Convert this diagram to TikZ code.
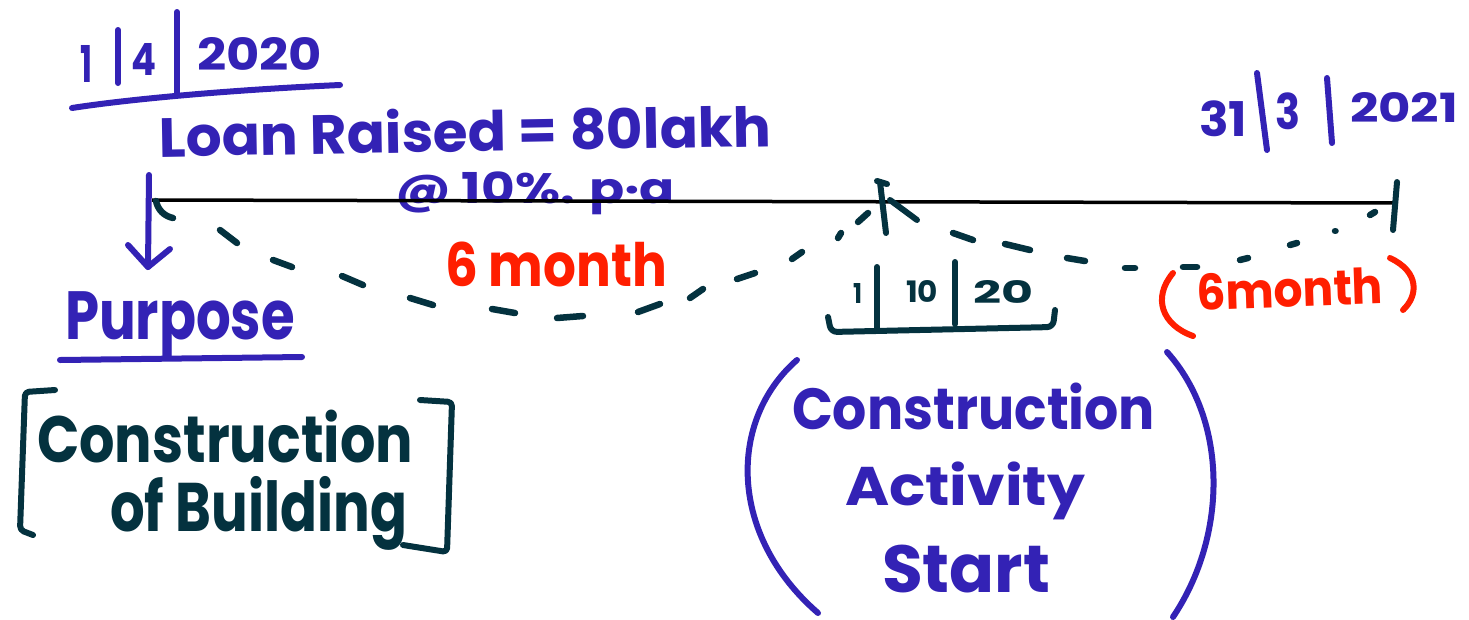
\documentclass[tikz,border=0pt]{standalone}
\usepackage{fontspec}
\usepackage{graphicx}
\setmainfont{Poppins}

\definecolor{ink}{HTML}{3322B5}
\definecolor{slate}{HTML}{04323F}
\definecolor{pen}{HTML}{FF1E00}

% text squeezed into a given ink box: width, total height, content
\newcommand\fitbox[3]{\resizebox*{#1pt}{#2pt}{\bfseries #3}}

\tikzset{
  txt/.style={inner sep=0pt, outer sep=0pt, anchor=north west},
  ctxt/.style={inner sep=0pt, outer sep=0pt, anchor=center},
  stroke/.style={line width=6pt, line cap=round, line join=round},
  dashmark/.style={line width=6.5pt, line cap=round, color=slate},
}

\begin{document}
\begin{tikzpicture}[x=1pt,y=-1pt]
\useasboundingbox (0,0) rectangle (1469,619);
\fill[white] (0,0) rectangle (1469,619);

% ---------- start date 1|4|2020 ----------
\node[txt, text=ink] (d1) at (80,45) {\fitbox{12}{37}{1}};
\node[txt, text=ink] (d4) at (131,43) {\fitbox{25}{32}{4}};
\node[txt, text=ink] (d2020) at (197,37) {\fitbox{125}{33}{2020}};
\draw[stroke, ink] (118,30) -- (118,83);
\draw[stroke, ink] (177,12) -- (177,95);
\draw[stroke, ink] (72,108) .. controls (130,99) and (230,90) .. (340,85);

% ---------- loan text ----------
\node[ctxt, text=ink, rotate=1] (loan) at (465,130) {\fitbox{612}{45}{Loan Raised = 80lakh}};
\node[txt, text=ink] (rate) at (395,172) {\fitbox{280}{43}{@ 10\%. p·a}};

% ---------- end date 31|3|2021 ----------
\node[txt, text=ink] (e31) at (1199,101) {\fitbox{48}{36}{31}};
\node[txt, text=ink] (e3) at (1275,93) {\fitbox{25}{37}{3}};
\node[txt, text=ink] (e2021) at (1350,92) {\fitbox{108}{30}{2021}};
\draw[stroke, ink] (1257,73) -- (1267,150);
\draw[stroke, ink] (1327,78) -- (1332,143);

% ---------- time axis ----------
\draw[line width=3.5pt, black] (152,200) -- (1397,203);
% start tick with downward arrow
\draw[stroke, ink] (149,175) -- (148,267);
\draw[stroke, ink] (128,245) -- (148,267) -- (170,249);
% middle tick
\draw[stroke, slate] (880,182) -- (886,233);
\draw[stroke, slate] (877,181) -- (887,184);
\draw[stroke, slate] (890,200) -- (917,220);
% end tick
\draw[stroke, slate] (1397,182) -- (1393,230);

% ---------- first half-year span (dashed arc) ----------
\draw[dashmark] (156,201) .. controls (158,210) and (164,216) .. (173,218);
\draw[dashmark] (220,230) -- (237,243);
\draw[dashmark] (273,260) -- (292,267);
\draw[dashmark] (342,276) -- (363,285);
\draw[dashmark] (410,298) -- (433,305);
\draw[dashmark] (492,309) -- (515,313);
\draw[dashmark] (557,318) -- (583,316);
\draw[dashmark] (638,312) -- (660,304);
\draw[dashmark] (690,298) -- (703,289);
\draw[dashmark] (737,279) -- (755,273);
\draw[dashmark] (792,259) -- (802,252);
\draw[dashmark] (838,238) -- (841,233);
\draw[dashmark] (858,222) -- (868,213);

% ---------- second half-year span (dashed arc) ----------
\draw[dashmark] (953,233) -- (973,240);
\draw[dashmark] (1005,244) -- (1030,250);
\draw[dashmark] (1067,258) -- (1085,261);
\draw[dashmark] (1125,268) -- (1135,268);
\draw[dashmark] (1183,267) -- (1197,267);
\draw[dashmark] (1240,260) -- (1248,258);
\draw[dashmark] (1290,245) -- (1297,243);
\draw[dashmark] (1335,231) -- (1335.5,231);
\draw[dashmark] (1370,215) -- (1375,212);

% ---------- span labels ----------
\node[txt, text=pen] (sixa) at (445,242) {\fitbox{222}{45}{6 month}};
\node[ctxt, text=pen, rotate=2] (sixb) at (1290,289) {\fitbox{186}{37}{6month}};
\draw[stroke, pen] (1173,273) .. controls (1152,298) and (1162,325) .. (1193,336);
\draw[stroke, pen] (1390,258) .. controls (1420,272) and (1418,296) .. (1403,310);

% ---------- mid date 1|10|20 ----------
\node[txt, text=slate] (dd1) at (853,283) {\fitbox{9}{20}{1}};
\node[txt, text=slate] (dd10) at (906,280) {\fitbox{32}{22}{10}};
\node[txt, text=slate] (dd20) at (973,280) {\fitbox{60}{23}{20}};
\draw[stroke, slate] (877,267) -- (877,329);
\draw[stroke, slate] (955,262) -- (955,324);
\draw[stroke, slate, rounded corners=6pt] (828,317) -- (831,332) -- (1053,327) -- (1055,310);

% ---------- purpose ----------
\node[txt, text=ink] (purpose) at (65,292) {\fitbox{230}{66}{Purpose}};
\draw[stroke, ink] (60,360) -- (302,357);

\node[txt, text=slate] (cons1) at (37,410) {\fitbox{376}{53}{Construction}};
\node[txt, text=slate] (cons2) at (110,476) {\fitbox{297}{74}{of Building}};
\draw[stroke, slate, rounded corners=4pt] (55,390) -- (25,392) -- (20,530) -- (33,535);
\draw[stroke, slate, rounded corners=4pt] (420,400) -- (452,402) -- (447,552) -- (403,545);

% ---------- construction start note ----------
\node[txt, text=ink] (act1) at (792,383) {\fitbox{363}{47}{Construction}};
\node[txt, text=ink] (act2) at (845,462) {\fitbox{240}{58}{Activity}};
\node[txt, text=ink] (act3) at (882,545) {\fitbox{168}{48}{Start}};
\draw[stroke, ink] (797,360) .. controls (728,420) and (728,535) .. (818,613);
\draw[stroke, ink] (1167,352) .. controls (1228,420) and (1228,535) .. (1173,617);

\end{tikzpicture}
\end{document}
